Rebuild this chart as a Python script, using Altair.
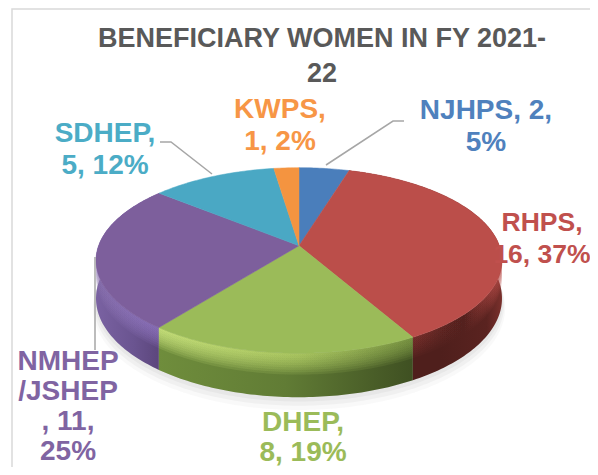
import math
import altair as alt
import pandas as pd

# ---- data ----
categories = ["NJHPS", "RHPS", "DHEP", "NMHEP/JSHEP", "SDHEP", "KWPS"]
values = [2, 16, 8, 11, 5, 1]
face_colors = ["#4a7ebb", "#bb4e4a", "#9bbb59", "#7d5f9c", "#4aa8c4", "#f49440"]
title_lines = ["BENEFICIARY WOMEN IN FY 2021-", "22"]
label_lines = [
    ["NJHPS, 2,", "5%"], ["RHPS,", "16, 37%"], ["DHEP,", "8, 19%"],
    ["NMHEP", "/JSHEP", ", 11,", "25%"], ["SDHEP,", "5, 12%"], ["KWPS,", "1, 2%"],
]
label_colors = ["#4f81bd", "#c0504d", "#9bbb59", "#8064a2", "#4bacc6", "#f79646"]
label_x = [486, 542, 303, 68, 105, 280]
label_y = [111, 223, 423, 362, 134, 110]
label_step = [32, 32, 30, 30, 32, 32]
label_size = [28, 26.5, 28, 28, 28, 28]

# pie layout (perspective view)
CX, CY, AX, AY, K, DEPTH = 299.0, 245.7, 200.4, 90.4, 0.159, 37.0

xs = alt.X("x:Q", scale=alt.Scale(domain=[8, 590], range=[0, 582]), axis=None)
ys = alt.Y("y:Q", scale=alt.Scale(domain=[8, 467], range=[0, 459]), axis=None)


def rim(a_deg, off=0.0, shrink=1.0):
    a = math.radians(a_deg)
    px, py = math.sin(a) * shrink, math.cos(a) * shrink
    d = 1 + K * py
    return CX + AX * px / d, CY - AY * py / d + off / d


def arc(a0, a1, off=0.0, shrink=1.0):
    n = max(2, int(abs(a1 - a0)) + 1)
    return [rim(a0 + (a1 - a0) * i / n, off, shrink) for i in range(n + 1)]


def poly(pts, **mark):
    df = pd.DataFrame({"x": [p[0] for p in pts], "y": [p[1] for p in pts], "i": range(len(pts))})
    mark.setdefault("strokeWidth", 0)
    return alt.Chart(df).mark_line(**mark).encode(x=xs, y=ys, order="i:Q")


def hgrad(stops):
    return alt.LinearGradient(
        gradient="linear", x1=0, x2=1, y1=0, y2=0,
        stops=[alt.GradientStop(offset=o, color=c) for o, c in stops],
    )


total = sum(values)
bounds = [0.0]
for v in values:
    bounds.append(bounds[-1] + v / total * 360)

layers = []

# soft ground shadow
for off, shr, op in [(46, 1.015, 0.05), (43, 1.01, 0.07), (40, 1.005, 0.08), (37, 1.0, 0.1)]:
    layers.append(poly(arc(0, 360, off, shr), fill="#808080", fillOpacity=op))

# side walls
wall_grad = {
    1: [(0, "#4f1f1c"), (0.6, "#4f1f1c"), (0.9, "#5a2320"), (1, "#7a302c")],
    2: [(0, "#6f8d3c"), (0.5, "#617c35"), (1, "#3f5022")],
    3: [(0, "#7a62a2"), (0.6, "#6a5490"), (1, "#5c467c")],
}
highlight = {
    1: [(0, "#a84440"), (0.75, "#a8444000"), (1, "#b84c48")],
    2: [(0, "#e0f88c"), (0.55, "#c4e070"), (1, "#8aa84c")],
    3: [(0, "#8a72ae"), (1, "#957ac8")],
}
for i in [3, 2, 1]:
    a0, a1 = bounds[i], bounds[i + 1]
    wall = arc(a0, a1) + arc(a1, a0, DEPTH)
    layers.append(poly(wall, fill=hgrad(wall_grad[i])))
    for depth in [18, 16, 14, 12, 10, 8, 6, 4, 2]:
        band = arc(a0, a1) + arc(a1, a0, depth)
        layers.append(poly(band, fill=hgrad(highlight[i]), fillOpacity=0.13))

# top faces
for i, c in enumerate(face_colors):
    a0, a1 = bounds[i], bounds[i + 1]
    layers.append(poly([(CX, CY)] + arc(a0, a1) + [(CX, CY)], fill=c, stroke=c, strokeWidth=0.5))

# leader lines
for line in [
    [(326, 165), (393, 121), (404, 121)],
    [(212, 174), (171, 142), (160, 142)],
    [(95, 257), (95, 350)],
]:
    layers.append(poly(line, stroke="#a6a6a6", strokeWidth=1.5))

# frame
layers.append(poly([(12, 467), (12, 9), (590, 9)], stroke="#d9d9d9", strokeWidth=1.5))

# text
rows = []
for ln, yy in zip(title_lines, [39, 74]):
    rows.append({"x": 322, "y": yy, "t": ln, "c": "#595959", "s": 27})
for lines, c, lx, ly, st, sz in zip(label_lines, label_colors, label_x, label_y, label_step, label_size):
    for j, ln in enumerate(lines):
        rows.append({"x": lx, "y": ly + j * st, "t": ln, "c": c, "s": sz})
layers.append(
    alt.Chart(pd.DataFrame(rows))
    .mark_text(font="Liberation Sans", fontWeight="bold", baseline="middle", align="center")
    .encode(x=xs, y=ys, text="t:N", color=alt.Color("c:N", scale=None),
            size=alt.Size("s:Q", scale=None, legend=None))
)

chart = (
    alt.layer(*layers)
    .properties(width=582, height=459, padding=0, background="white", autosize="none")
    .configure_view(stroke=None)
)
chart.save("out.html", embed_options={"renderer": "svg", "actions": False})
